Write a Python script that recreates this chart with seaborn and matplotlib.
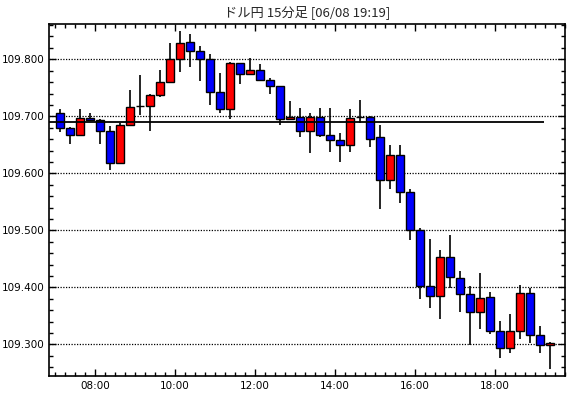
import numpy as np
import pandas as pd
import matplotlib
matplotlib.use("Agg")
import matplotlib.pyplot as plt
from matplotlib.ticker import MultipleLocator, FixedLocator, FuncFormatter
import seaborn as sns

# ---- data (15-minute bars, 07:00 .. 19:15) ----
times = ["07:00", "07:15", "07:30", "07:45", "08:00", "08:15", "08:30", "08:45",
         "09:00", "09:15", "09:30", "09:45", "10:00", "10:15", "10:30", "10:45",
         "11:00", "11:15", "11:30", "11:45", "12:00", "12:15", "12:30", "12:45",
         "13:00", "13:15", "13:30", "13:45", "14:00", "14:15", "14:30", "14:45",
         "15:00", "15:15", "15:30", "15:45", "16:00", "16:15", "16:30", "16:45",
         "17:00", "17:15", "17:30", "17:45", "18:00", "18:15", "18:30", "18:45",
         "19:00", "19:15"]
opens = [109.705, 109.679, 109.668, 109.697, 109.693, 109.674, 109.618, 109.684,
         109.718, 109.718, 109.737, 109.761, 109.800, 109.830, 109.814, 109.800,
         109.743, 109.712, 109.793, 109.775, 109.782, 109.763, 109.754, 109.695,
         109.699, 109.674, 109.699, 109.668, 109.658, 109.649, 109.698, 109.698,
         109.663, 109.588, 109.632, 109.567, 109.500, 109.402, 109.384, 109.454,
         109.416, 109.388, 109.356, 109.383, 109.323, 109.294, 109.323, 109.390,
         109.316, 109.298]
highs = [109.713, 109.681, 109.713, 109.705, 109.695, 109.683, 109.688, 109.746,
         109.772, 109.739, 109.781, 109.829, 109.850, 109.844, 109.823, 109.809,
         109.776, 109.795, 109.793, 109.803, 109.792, 109.767, 109.754, 109.727,
         109.714, 109.705, 109.714, 109.714, 109.670, 109.713, 109.729, 109.701,
         109.685, 109.650, 109.650, 109.572, 109.504, 109.485, 109.466, 109.492,
         109.429, 109.402, 109.426, 109.392, 109.341, 109.353, 109.404, 109.398,
         109.333, 109.304]
lows = [109.673, 109.651, 109.667, 109.691, 109.651, 109.606, 109.618, 109.683,
        109.702, 109.675, 109.734, 109.758, 109.778, 109.786, 109.762, 109.720,
        109.706, 109.696, 109.756, 109.774, 109.763, 109.740, 109.684, 109.695,
        109.663, 109.636, 109.663, 109.638, 109.620, 109.638, 109.688, 109.647,
        109.537, 109.573, 109.548, 109.483, 109.380, 109.363, 109.345, 109.399,
        109.356, 109.299, 109.327, 109.319, 109.276, 109.284, 109.310, 109.302,
        109.285, 109.257]
closes = [109.679, 109.668, 109.697, 109.693, 109.674, 109.618, 109.684, 109.716,
          109.718, 109.737, 109.761, 109.800, 109.828, 109.814, 109.800, 109.743,
          109.712, 109.793, 109.775, 109.782, 109.763, 109.754, 109.695, 109.699,
          109.674, 109.699, 109.668, 109.658, 109.649, 109.697, 109.698, 109.661,
          109.588, 109.632, 109.567, 109.500, 109.402, 109.384, 109.454, 109.418,
          109.388, 109.356, 109.381, 109.323, 109.294, 109.323, 109.390, 109.316,
          109.298, 109.302]
ref_level = 109.690
title = "ドル円 15分足 [06/08 19:19]"
xtick_hours = [8, 10, 12, 14, 16, 18]
xtick_labels = ["08:00", "10:00", "12:00", "14:00", "16:00", "18:00"]

df = pd.DataFrame({"time": times, "open": opens, "high": highs,
                   "low": lows, "close": closes})
hh = df["time"].str.slice(0, 2).astype(int)
mm = df["time"].str.slice(3, 5).astype(int)
df["x"] = hh + mm / 60.0 + 0.125  # bar centre within its 15-min interval
df["up"] = df["close"] >= df["open"]
df["bottom"] = df[["open", "close"]].min(axis=1)
df["height"] = (df["close"] - df["open"]).abs()

sns.set_style("ticks")
plt.rcParams["font.family"] = ["DejaVu Sans"]

fig = plt.figure(figsize=(5.70, 3.98), dpi=100)
ax = fig.add_axes([49 / 570, (398 - 375.7) / 398, (565 - 49) / 570, (375.7 - 24.3) / 398])

# wicks
ax.vlines(df["x"], df["low"], df["high"], color="black", linewidth=1.2, zorder=3)
# bodies
colors = np.where(df["up"], "#ff0000", "#0000ff")
ax.bar(df["x"], df["height"], bottom=df["bottom"], width=0.18,
       color=colors, edgecolor="black", linewidth=1.0, zorder=4)

# reference level line
ax.hlines(ref_level, 6.85, 19.225, color="black", linewidth=1.3, zorder=5)

ax.set_xlim(6.85, 19.75)
ax.set_ylim(109.245, 109.8614)

ax.yaxis.set_major_locator(FixedLocator([109.3, 109.4, 109.5, 109.6, 109.7, 109.8]))
ax.yaxis.set_minor_locator(MultipleLocator(0.02))
ax.yaxis.set_major_formatter(FuncFormatter(lambda v, p: f"{v:.3f}"))
ax.xaxis.set_major_locator(FixedLocator(xtick_hours))
ax.xaxis.set_minor_locator(MultipleLocator(0.25))
ax.set_xticklabels(xtick_labels)

ax.grid(axis="y", which="major", color="black", linestyle=(0, (1, 1.2)), linewidth=0.9)
ax.set_axisbelow(True)

ax.tick_params(which="both", direction="in", top=True, right=True,
               colors="black", labelsize=7.5)
ax.tick_params(which="major", length=5, width=1.0, pad=3)
ax.tick_params(which="minor", length=3, width=1.0)
ax.tick_params(axis="x", pad=4)
for s in ax.spines.values():
    s.set_color("black")
    s.set_linewidth(1.2)

fig.text(307 / 570, 1 - 12 / 398, title, ha="center", va="center", fontsize=9.5,
         family=["Noto Sans CJK JP", "DejaVu Sans"])

fig.savefig("out.png", dpi=100, facecolor="white")
